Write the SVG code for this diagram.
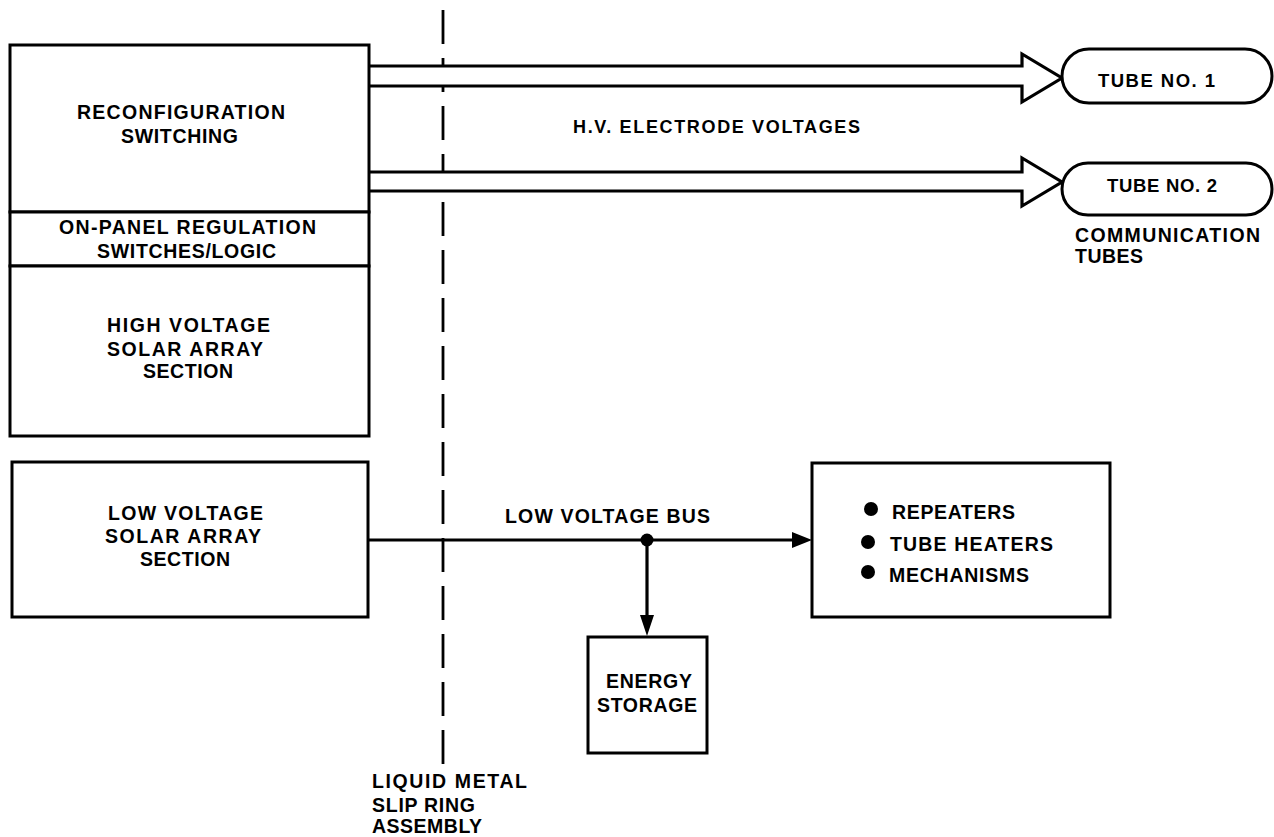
<svg xmlns="http://www.w3.org/2000/svg" width="1274" height="837" viewBox="0 0 1274 837">
<style>
.box{fill:#fff;stroke:#000;stroke-width:3}
.t{font-family:"Liberation Sans",Arial,sans-serif;font-weight:bold;font-size:19.5px;fill:#000}
.ln{fill:none;stroke:#000;stroke-width:3.2}
.dash{fill:none;stroke:#000;stroke-width:2.8;stroke-dasharray:34 14}
</style>
<rect width="1274" height="837" fill="#fff"/>
<g id="connectors">
<line class="dash" x1="443" y1="10" x2="443" y2="770"/>
<path class="ln" d="M369,66 H1022 V54 L1062,78 L1022,102 V86 H369" style="fill:#fff"/>
<path class="ln" d="M369,172 H1022 V158 L1062,182 L1022,206 V191 H369" style="fill:#fff"/>
<line class="ln" x1="368" y1="540" x2="795" y2="540"/>
<polygon points="792,532 812,540 792,548" fill="#000"/>
<line class="ln" x1="647" y1="540" x2="647" y2="618"/>
<polygon points="640,615 654,615 647,636" fill="#000"/>
<circle cx="647" cy="540" r="6.5" fill="#000"/>
</g>
<g id="reconfiguration-switching">
<rect class="box" x="10" y="45" width="359" height="167"/>
<text class="t" x="77" y="119" textLength="208" lengthAdjust="spacing">RECONFIGURATION</text>
<text class="t" x="121" y="143" textLength="117" lengthAdjust="spacing">SWITCHING</text>
</g>
<g id="on-panel-regulation">
<rect class="box" x="10" y="212" width="359" height="54"/>
<text class="t" x="59" y="234" textLength="257" lengthAdjust="spacing">ON-PANEL REGULATION</text>
<text class="t" x="97" y="258" textLength="179" lengthAdjust="spacing">SWITCHES/LOGIC</text>
</g>
<g id="high-voltage-array">
<rect class="box" x="10" y="266" width="359" height="170"/>
<text class="t" x="107" y="332" textLength="163" lengthAdjust="spacing">HIGH VOLTAGE</text>
<text class="t" x="107" y="356" textLength="156" lengthAdjust="spacing">SOLAR ARRAY</text>
<text class="t" x="143" y="378" textLength="90" lengthAdjust="spacing">SECTION</text>
</g>
<g id="low-voltage-array">
<rect class="box" x="12" y="462" width="356" height="155"/>
<text class="t" x="108" y="520" textLength="155" lengthAdjust="spacing">LOW VOLTAGE</text>
<text class="t" x="105" y="543" textLength="156" lengthAdjust="spacing">SOLAR ARRAY</text>
<text class="t" x="140" y="566" textLength="90" lengthAdjust="spacing">SECTION</text>
</g>
<g id="hv-label">
<text class="t" x="573" y="133" style="font-size:18px" textLength="287" lengthAdjust="spacing">H.V. ELECTRODE VOLTAGES</text>
</g>
<g id="tube1">
<rect class="box" x="1062" y="49" width="210" height="54" rx="27" ry="27"/>
<text class="t" x="1098" y="87" style="font-size:18.5px" textLength="117" lengthAdjust="spacing">TUBE NO. 1</text>
</g>
<g id="tube2">
<rect class="box" x="1062" y="163" width="210" height="52" rx="26" ry="26"/>
<text class="t" x="1107" y="192" style="font-size:18.5px" textLength="110" lengthAdjust="spacing">TUBE NO. 2</text>
</g>
<g id="communication-tubes-label">
<text class="t" x="1075" y="242" textLength="185" lengthAdjust="spacing">COMMUNICATION</text>
<text class="t" x="1075" y="263" textLength="68" lengthAdjust="spacing">TUBES</text>
</g>
<g id="bus-label">
<text class="t" x="505" y="523" textLength="205" lengthAdjust="spacing">LOW VOLTAGE BUS</text>
</g>
<g id="loads">
<rect class="box" x="812" y="463" width="298" height="154"/>
<circle cx="871" cy="509" r="7" fill="#000"/>
<circle cx="868" cy="542" r="7" fill="#000"/>
<circle cx="868" cy="572" r="7" fill="#000"/>
<text class="t" x="892" y="519" textLength="123" lengthAdjust="spacing">REPEATERS</text>
<text class="t" x="890" y="551" textLength="163" lengthAdjust="spacing">TUBE HEATERS</text>
<text class="t" x="889" y="582" textLength="140" lengthAdjust="spacing">MECHANISMS</text>
</g>
<g id="energy-storage">
<rect class="box" x="588" y="637" width="119" height="116"/>
<text class="t" x="606" y="688" textLength="86" lengthAdjust="spacing">ENERGY</text>
<text class="t" x="597" y="712" textLength="100" lengthAdjust="spacing">STORAGE</text>
</g>
<g id="slip-ring-label">
<text class="t" x="372" y="788" textLength="155" lengthAdjust="spacing">LIQUID METAL</text>
<text class="t" x="372" y="812" textLength="103" lengthAdjust="spacing">SLIP RING</text>
<text class="t" x="372" y="833" textLength="110" lengthAdjust="spacing">ASSEMBLY</text>
</g>
</svg>
